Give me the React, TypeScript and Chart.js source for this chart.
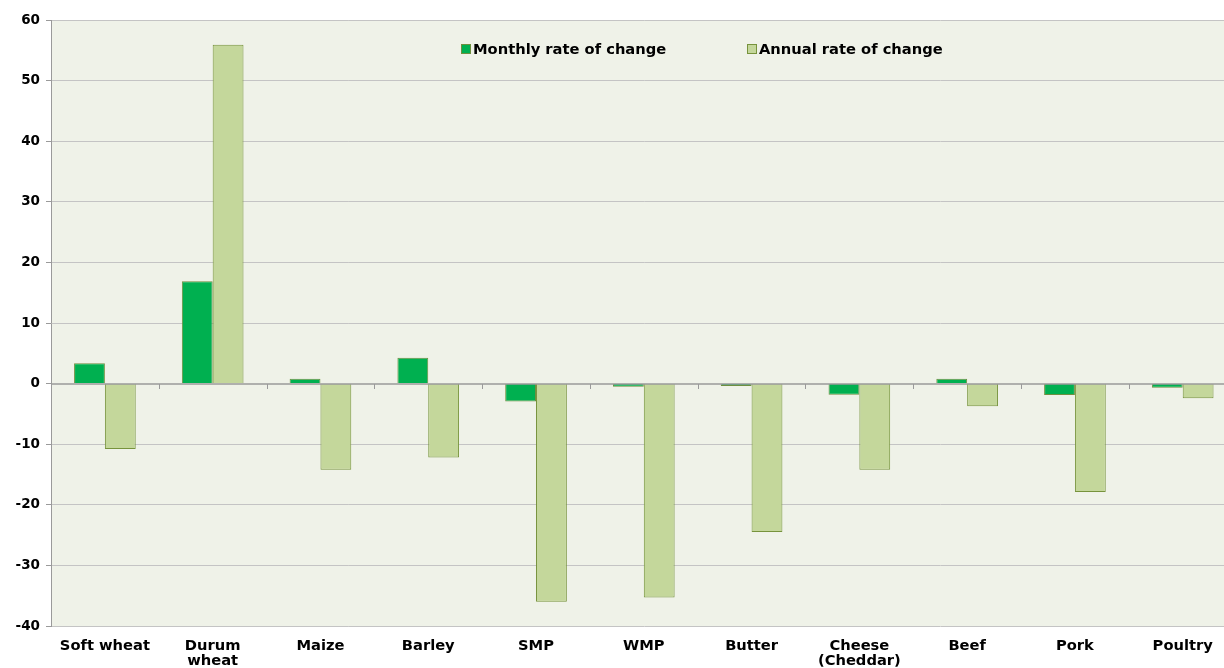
import React, { useEffect, useRef } from "react";
import { Chart, registerables } from "chart.js";
Chart.register(...registerables);

const categories: (string | string[])[] = [
  "Soft wheat", ["Durum", "wheat"], "Maize", "Barley", "SMP", "WMP", "Butter",
  ["Cheese", "(Cheddar)"], "Beef", "Pork", "Poultry",
];
const monthly = [3.35, 16.9, 0.8, 4.25, -2.95, -0.5, -0.4, -1.85, 0.8, -1.9, -0.7];
const annual = [-10.8, 55.9, -14.2, -12.2, -36.0, -35.3, -24.5, -14.2, -3.75, -17.9, -2.4];
const seriesNames = ["Monthly rate of change", "Annual rate of change"];
const yTicks = [60, 50, 40, 30, 20, 10, 0, -10, -20, -30, -40];

const FONT = "'DejaVu Sans', Verdana, sans-serif";
const CANVAS_W = 1240;

const bgPlugin = {
  id: "bgPlugin",
  beforeDraw(chart: any) {
    const { ctx, chartArea: a } = chart;
    ctx.save();
    ctx.fillStyle = "#EFF2E8";
    ctx.fillRect(a.left, a.top, a.right - a.left, a.bottom - a.top);
    ctx.restore();
  },
  afterDatasetsDraw(chart: any) {
    const { ctx, chartArea: a } = chart;
    const y0 = chart.scales.y.getPixelForValue(0);
    ctx.save();
    ctx.strokeStyle = "#9A9A9A";
    ctx.lineWidth = 1.5;
    ctx.beginPath();
    ctx.moveTo(a.left, Math.round(y0));
    ctx.lineTo(a.right, Math.round(y0));
    ctx.stroke();
    ctx.lineWidth = 1;
    ctx.beginPath();
    const n = categories.length;
    const w = (a.right - a.left) / n;
    for (let i = 1; i < n; i++) {
      const x = Math.round(a.left + i * w) + 0.5;
      ctx.moveTo(x, Math.round(y0));
      ctx.lineTo(x, Math.round(y0) + 5);
    }
    ctx.stroke();
    ctx.restore();
  },
};

export default function App() {
  const ref = useRef<HTMLCanvasElement>(null);
  useEffect(() => {
    if (!ref.current) return;
    const chart = new Chart(ref.current, {
      type: "bar",
      data: {
        labels: categories,
        datasets: [
          {
            label: seriesNames[0],
            data: monthly,
            backgroundColor: "#00B050",
            borderColor: "#6E8F3F",
            borderWidth: 1,
            categoryPercentage: 0.572,
            barPercentage: 1,
          },
          {
            label: seriesNames[1],
            data: annual,
            backgroundColor: "#C4D79B",
            borderColor: "#77933C",
            borderWidth: 1,
            categoryPercentage: 0.572,
            barPercentage: 1,
          },
        ],
      },
      options: {
        animation: false,
        responsive: false,
        maintainAspectRatio: false,
        layout: { padding: { top: 20, right: 3.4, left: 0, bottom: 0 } },
        plugins: {
          legend: { display: false },
          tooltip: { enabled: false },
        },
        scales: {
          x: {
            grid: { display: false },
            border: { display: false },
            ticks: {
              color: "#000",
              font: { family: FONT, size: 14.7, weight: "bold", lineHeight: 1.05 },
              padding: 4,
              maxRotation: 0,
              autoSkip: false,
            },
            afterFit(scale: any) {
              scale.height = 42;
            },
          },
          y: {
            min: -40,
            max: 60,
            afterBuildTicks(scale: any) {
              scale.ticks = yTicks.map((v) => ({ value: v }));
            },
            grid: {
              color: (c: any) => (c.tick && c.tick.value === 0 ? "rgba(0,0,0,0)" : "#C4C4C4"),
              tickColor: "#9A9A9A",
              tickLength: 5,
              lineWidth: 1,
            },
            border: { display: true, color: "#9A9A9A", width: 1 },
            ticks: {
              color: "#000",
              font: { family: FONT, size: 13.5, weight: "bold" },
              padding: 6,
            },
            afterFit(scale: any) {
              scale.width = 51;
            },
          },
        },
      },
      plugins: [bgPlugin],
    } as any);
    return () => chart.destroy();
  }, []);

  const legendText: React.CSSProperties = {
    fontFamily: FONT,
    fontSize: 14.7,
    fontWeight: "bold",
    color: "#000",
    position: "absolute",
    top: 39,
    lineHeight: "20px",
    whiteSpace: "nowrap",
    display: "flex",
    alignItems: "center",
  };
  const box = (bg: string, bd: string): React.CSSProperties => ({
    display: "inline-block",
    width: 8,
    height: 8,
    background: bg,
    border: `1px solid ${bd}`,
    marginRight: 2,
  });

  return (
    <div style={{ position: "fixed", left: 0, top: 0, width: 1224, height: 668, background: "#fff", overflow: "hidden" }}>
      <canvas ref={ref} width={CANVAS_W} height={668} style={{ width: CANVAS_W, height: 668, display: "block" }} />
      <div style={{ ...legendText, left: 461 }}>
        <span style={box("#00B050", "#6E8F3F")} />
        {seriesNames[0]}
      </div>
      <div style={{ ...legendText, left: 747 }}>
        <span style={box("#C4D79B", "#77933C")} />
        {seriesNames[1]}
      </div>
    </div>
  );
}
